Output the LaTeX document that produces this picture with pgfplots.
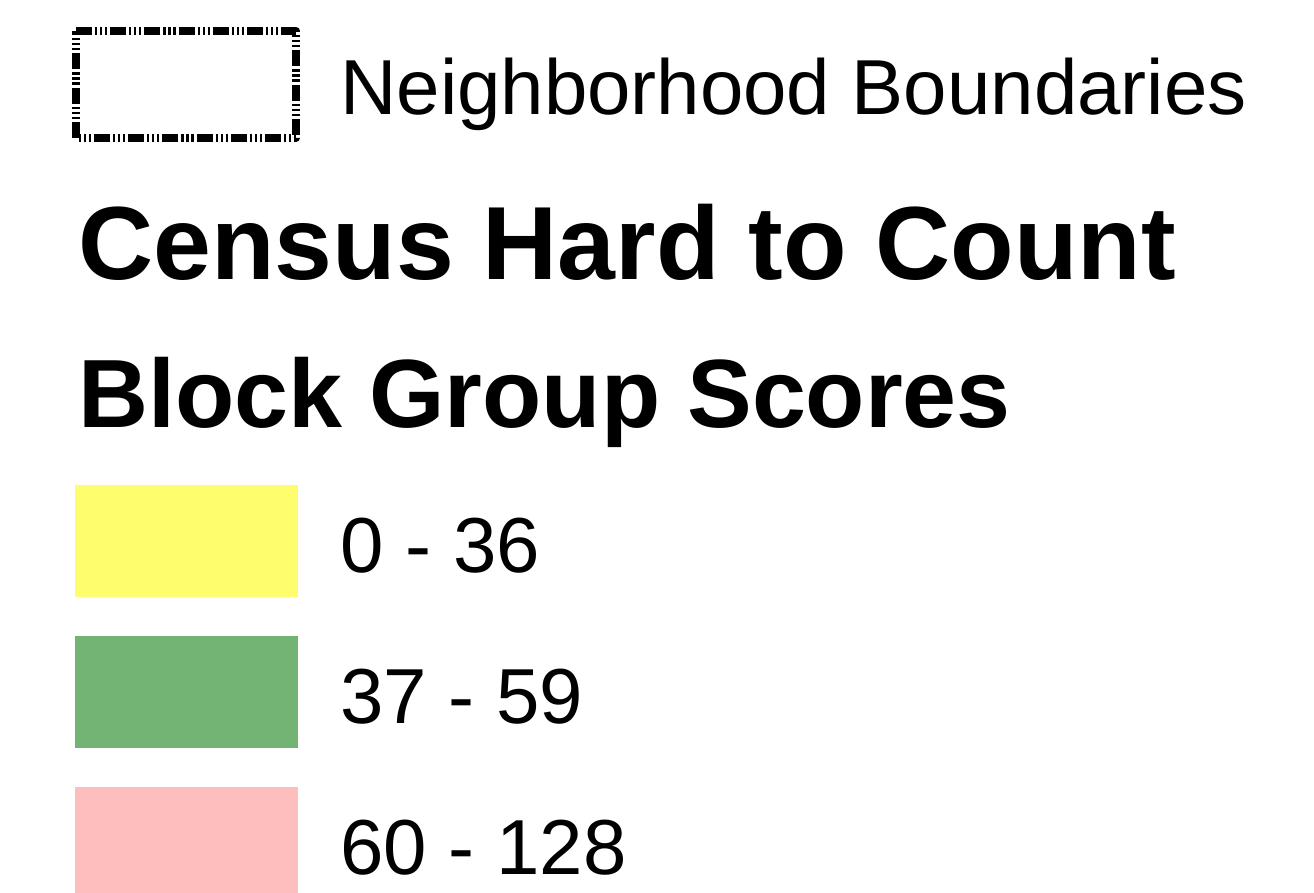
\documentclass[border=0pt]{standalone}
\usepackage{pgfplots}
\pgfplotsset{compat=1.18}
\usepackage{fontspec}
\setmainfont{Liberation Sans}
\definecolor{cyellow}{RGB}{253,253,110}
\definecolor{cgreen}{RGB}{115,179,115}
\definecolor{cpink}{RGB}{253,190,190}
\begin{document}
\begin{tikzpicture}
\useasboundingbox (0,0) rectangle (657pt,446.5pt);
\begin{axis}[
  at={(0,0)}, anchor=south west,
  width=657pt, height=446.5pt, scale only axis,
  xmin=0, xmax=1314, ymin=0, ymax=893, y dir=reverse,
  hide axis, clip=false,
]
% Neighborhood boundary symbol
\addplot[black, line width=4pt, line cap=butt, line join=round,
  dash pattern=on 8pt off 1.5pt on 1.1pt off 1.4pt on 1.1pt off 1.4pt on 1.1pt off 1.5pt]
  coordinates {(76,31) (296,31) (296,138) (76,138) (76,31)};
% Colour swatches
\addplot[draw=none, fill=cyellow] coordinates {(75,485) (298,485) (298,597) (75,597)} -- cycle;
\addplot[draw=none, fill=cgreen] coordinates {(75,636) (298,636) (298,748) (75,748)} -- cycle;
\addplot[draw=none, fill=cpink] coordinates {(75,787) (298,787) (298,893) (75,893)} -- cycle;
% Texts
\node[anchor=base west, inner sep=0pt, font=\fontsize{39}{47}\selectfont] at (axis cs:340,115) {Neighborhood Boundaries};
\node[anchor=base west, inner sep=0pt, font=\fontsize{52}{62}\selectfont\bfseries] at (axis cs:78,280) {Census Hard to Count};
\node[anchor=base west, inner sep=0pt, font=\fontsize{48.5}{58}\selectfont\bfseries] at (axis cs:78,428) {Block Group Scores};
\node[anchor=base west, inner sep=0pt, font=\fontsize{39}{47}\selectfont] at (axis cs:340,573) {0 - 36};
\node[anchor=base west, inner sep=0pt, font=\fontsize{39}{47}\selectfont] at (axis cs:340,724) {37 - 59};
\node[anchor=base west, inner sep=0pt, font=\fontsize{39}{47}\selectfont] at (axis cs:340,874) {60 - 128};
\end{axis}
\end{tikzpicture}
\end{document}
